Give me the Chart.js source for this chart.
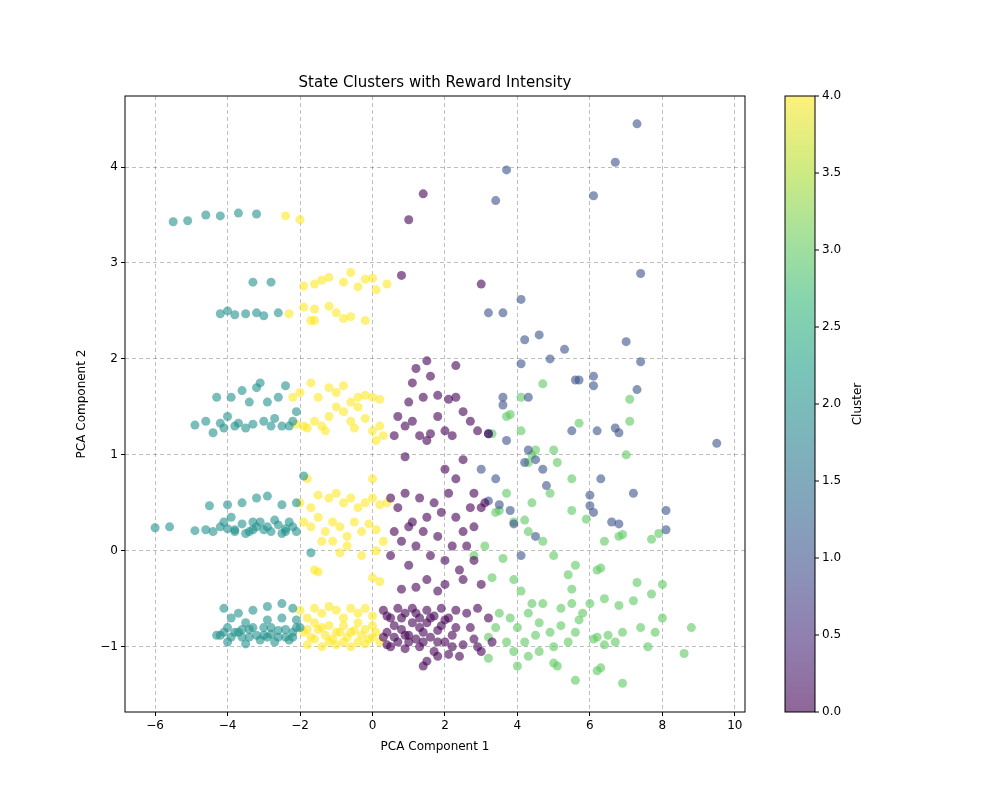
<!DOCTYPE html>
<html>
<head>
<meta charset="utf-8">
<script src="https://cdn.jsdelivr.net/npm/chart.js@4"></script>
<style>body{margin:0;background:#fff}</style>
</head>
<body>
<canvas id="c" width="1000" height="800"></canvas>
<script>
// points per cluster, [pc1, pc2]
var cluster0 = [[1.4,3.72],[1.0,3.45],[0.8,2.87],[3.0,2.78],
[1.5,1.98],[1.2,1.9],[1.6,1.82],[2.3,1.93],[1.1,1.75],[1.4,1.6],[1.8,1.62],[2.1,1.58],[1.0,1.55],[0.7,1.4],[0.9,1.3],[1.1,1.35],[1.3,1.2],[1.5,1.15],[1.8,1.4],[2.0,1.25],[2.3,1.6],[2.5,1.45],[2.7,1.35],[2.9,1.25],[3.2,1.22],[0.6,1.2],[0.9,0.98],[1.6,1.22],[2.2,1.2],
[2.0,0.85],[2.3,0.75],[2.5,0.95],[2.8,0.6],[3.0,0.45],[0.5,0.55],[0.7,0.45],[0.9,0.6],[1.1,0.3],[1.3,0.55],[1.5,0.35],[1.7,0.5],[1.9,0.4],[2.1,0.6],[2.3,0.35],[2.5,0.2],[2.7,0.45],[0.6,0.2],[0.8,0.1],[1.0,0.25],[1.2,0.05],[1.4,0.2],[1.6,-0.05],[1.8,0.15],[2.0,-0.1],[2.2,0.05],[2.4,-0.2],[2.6,0.05],[2.8,-0.1],[3.1,0.5],[0.5,-0.05],[1.0,-0.15],[1.5,-0.3],[2.0,-0.35],[2.5,-0.3],[3.0,-0.35],[0.8,-0.4],[1.2,-0.38],[1.8,-0.42],[2.8,0.25],
[0.3,-0.62],[0.5,-0.7],[0.7,-0.6],[0.9,-0.65],[1.1,-0.6],[1.3,-0.7],[1.5,-0.62],[1.7,-0.68],[1.9,-0.6],[2.1,-0.7],[2.3,-0.62],[2.6,-0.65],[2.9,-0.6],[3.2,-0.7],[0.4,-0.85],[0.6,-0.9],[0.8,-0.82],[1.0,-0.88],[1.2,-0.92],[1.4,-0.85],[1.6,-0.9],[1.8,-0.83],[2.0,-0.95],[2.2,-0.88],[2.5,-0.98],[2.8,-0.92],[3.0,-1.05],[3.3,-0.95],[0.5,-1.0],[0.9,-1.02],[1.3,-1.0],[1.7,-1.05],[2.1,-1.08],[1.5,-1.15],[1.4,-1.2],[1.8,-1.1],[2.4,-1.1],[2.9,-1.0],[1.1,-0.75],[1.9,-0.78],[2.7,-0.8],[0.7,-0.95],[1.5,-0.75],[2.3,-0.8],
[0.4,-0.68],[0.6,-0.78],[0.8,-0.7],[1.0,-0.95],[1.2,-0.65],[1.4,-0.95],[1.6,-0.7],[1.8,-0.95],[2.0,-0.72],[2.2,-1.0],[0.3,-0.9],[0.4,-0.98],[1.3,-0.8],[0.9,-0.88]];
var cluster1 = [[7.3,4.45],[6.7,4.05],[3.7,3.97],[6.1,3.7],[3.4,3.65],[7.4,2.89],[4.1,2.62],[3.2,2.48],[3.6,2.48],[4.6,2.25],[4.2,2.2],[5.3,2.1],[7.0,2.18],[4.9,2.0],[4.1,1.95],[7.4,1.97],[6.1,1.82],[6.1,1.72],[5.6,1.78],[5.7,1.78],[7.3,1.68],[3.6,1.6],[3.6,1.52],[4.3,1.6],[5.5,1.25],[6.2,1.25],[6.7,1.28],[6.8,1.23],[9.5,1.12],[3.2,1.22],[3.7,1.15],[4.3,1.05],[4.7,0.85],[4.2,0.92],[4.5,0.95],[3.0,0.85],[3.4,0.75],[6.3,0.75],[4.8,0.68],[3.2,0.52],[3.5,0.48],[3.8,0.42],[6.0,0.58],[7.2,0.6],[8.1,0.42],[6.0,0.47],[6.1,0.4],[3.9,0.28],[6.6,0.3],[6.8,0.28],[8.1,0.22],[4.5,0.15],[4.1,-0.05]];
var cluster2 = [[-5.5,3.43],[-5.1,3.44],[-4.6,3.5],[-4.2,3.49],[-3.7,3.52],[-3.2,3.51],
[-4.2,2.47],[-4.0,2.5],[-3.8,2.46],[-3.5,2.47],[-3.2,2.48],[-3.0,2.45],[-2.6,2.48],[-3.3,2.8],[-2.8,2.8],
[-4.9,1.31],[-4.6,1.35],[-4.4,1.23],[-4.2,1.33],[-4.0,1.4],[-3.8,1.3],[-3.6,1.67],[-3.4,1.55],[-3.2,1.7],[-3.0,1.35],[-2.8,1.3],[-2.6,1.6],[-2.4,1.72],[-2.2,1.35],[-2.1,1.45],[-4.3,1.6],[-3.9,1.6],[-3.5,1.28],[-3.1,1.75],[-2.5,1.3],[-2.3,1.3],[-3.7,1.33],[-2.7,1.38],[-2.9,1.55],[-4.1,1.28],[-3.3,1.32],
[-6.0,0.24],[-5.6,0.25],[-4.9,0.21],[-4.6,0.22],[-4.4,0.2],[-4.2,0.25],[-4.0,0.23],[-3.8,0.22],[-3.6,0.28],[-3.4,0.2],[-3.2,0.25],[-3.0,0.22],[-2.8,0.2],[-2.6,0.27],[-2.4,0.23],[-2.2,0.25],[-2.1,0.2],[-4.5,0.47],[-4.0,0.48],[-3.6,0.5],[-3.2,0.55],[-2.9,0.57],[-2.5,0.48],[-2.1,0.5],[-3.9,0.35],[-3.5,0.18],[-2.7,0.32],[-2.3,0.3],[-1.9,0.78],[-1.7,-0.02],[-3.1,0.3],[-4.1,0.3],[-3.3,0.3],[-2.5,0.18],
[-4.2,-0.88],[-4.0,-0.8],[-3.8,-0.85],[-3.6,-0.9],[-3.4,-0.82],[-3.2,-0.88],[-3.0,-0.8],[-2.8,-0.87],[-2.6,-0.83],[-2.4,-0.9],[-2.2,-0.85],[-2.0,-0.8],[-4.1,-0.6],[-3.7,-0.65],[-3.3,-0.62],[-2.9,-0.58],[-2.5,-0.55],[-2.2,-0.6],[-4.0,-0.95],[-3.5,-0.97],[-3.1,-0.93],[-2.7,-0.95],[-2.3,-0.93],[-3.9,-0.7],[-3.5,-0.75],[-2.9,-0.72],[-2.5,-0.7],[-4.3,-0.88],[-3.3,-0.8],[-2.1,-0.72],[-3.7,-0.85],[-2.9,-0.9],
[-4.1,-0.85],[-3.9,-0.9],[-3.6,-0.82],[-3.4,-0.9],[-3.0,-0.88],[-2.8,-0.8],[-2.6,-0.9],[-2.4,-0.82],[-2.2,-0.9],[-2.1,-0.8],[-3.8,0.2],[-3.3,0.22],[-2.9,0.25],[-2.4,0.2]];
var cluster3 = [[4.7,1.74],[7.1,1.58],[4.1,1.6],[3.8,1.42],[3.7,1.4],[7.1,1.35],[5.7,1.33],[4.1,1.25],[3.3,1.22],[4.5,1.05],[4.4,1.0],[5.0,1.05],[5.1,0.92],[7.0,1.0],[4.3,0.92],[5.5,0.75],[4.9,0.6],[3.7,0.6],[3.5,0.42],[3.4,0.4],[3.9,0.3],[4.2,0.32],[4.4,0.5],[5.5,0.42],[5.9,0.33],[6.4,0.1],[6.8,0.15],[7.7,0.12],[7.9,0.18],[6.9,0.17],[3.1,0.05],[3.6,-0.08],[4.3,0.2],[4.7,0.1],[5.0,-0.05],[2.8,-0.05],[3.3,-0.28],[3.9,-0.3],[4.1,-0.42],[5.4,-0.25],[5.5,-0.4],[6.2,-0.2],[6.3,-0.18],[7.3,-0.33],[8.0,-0.35],[5.6,-0.15],[4.4,-0.55],[4.7,-0.55],[5.2,-0.6],[5.5,-0.55],[5.8,-0.65],[6.0,-0.55],[6.4,-0.5],[6.8,-0.57],[7.2,-0.52],[7.7,-0.45],[3.5,-0.65],[3.8,-0.7],[4.0,-0.8],[4.3,-0.65],[4.6,-0.75],[4.9,-0.85],[5.2,-0.78],[5.6,-0.85],[6.2,-0.9],[6.5,-0.88],[6.9,-0.85],[7.4,-0.8],[7.8,-0.85],[8.8,-0.8],[3.2,-0.9],[3.7,-0.95],[4.2,-0.95],[4.5,-0.88],[5.0,-1.0],[5.4,-0.95],[6.1,-0.92],[6.4,-0.98],[6.7,-0.95],[7.6,-1.0],[8.6,-1.07],[3.2,-1.12],[3.9,-1.05],[4.3,-1.1],[4.6,-1.05],[5.0,-1.17],[5.1,-1.2],[5.6,-1.35],[6.2,-1.25],[6.3,-1.22],[6.9,-1.38],[4.0,-1.2],[8.0,-0.7],[5.7,-0.72],[3.4,-0.8]];
var cluster4 = [[-2.4,3.49],[-2.0,3.45],
[-1.9,2.76],[-1.6,2.78],[-1.4,2.82],[-1.2,2.85],[-0.8,2.8],[-0.6,2.9],[-0.4,2.75],[-0.2,2.83],[0.0,2.84],[0.1,2.72],[0.4,2.78],[-1.9,2.54],[-1.6,2.52],[-1.7,2.4],[-1.6,2.4],[-1.2,2.55],[-1.0,2.48],[-0.8,2.42],[-0.6,2.44],[-0.2,2.4],[-2.3,2.47],
[-2.2,1.6],[-2.0,1.65],[-1.7,1.75],[-1.5,1.6],[-1.2,1.7],[-1.0,1.65],[-0.8,1.72],[-0.6,1.55],[-0.4,1.6],[-0.2,1.62],[0.0,1.6],[0.2,1.58],[-2.1,1.32],[-1.9,1.3],[-1.6,1.35],[-1.4,1.3],[-1.2,1.4],[-1.0,1.5],[-0.8,1.45],[-0.6,1.35],[-0.4,1.5],[-0.2,1.38],[0.0,1.25],[0.2,1.3],[0.3,1.2],[-0.5,1.28],[0.1,1.15],[-1.8,1.28],[-1.3,1.25],
[-1.8,0.75],[-2.0,0.5],[-1.7,0.45],[-1.5,0.58],[-1.2,0.55],[-1.0,0.6],[-0.8,0.5],[-0.6,0.55],[-0.4,0.45],[-0.2,0.5],[0.0,0.55],[0.2,0.48],[0.4,0.5],[0.0,0.75],[-1.9,0.3],[-1.7,0.25],[-1.5,0.35],[-1.3,0.2],[-1.1,0.3],[-0.9,0.25],[-0.7,0.15],[-0.5,0.3],[-0.3,0.2],[-0.1,0.28],[0.1,0.22],[0.3,0.1],[-0.7,0.05],[-0.9,-0.02],[-0.3,-0.05],[-1.6,-0.2],[-1.5,-0.22],[0.0,-0.28],[0.2,-0.32],[0.1,0.0],[-1.1,0.1],[-1.4,0.1],
[-2.0,-0.62],[-1.8,-0.7],[-1.6,-0.6],[-1.4,-0.65],[-1.2,-0.58],[-1.0,-0.62],[-0.8,-0.7],[-0.6,-0.6],[-0.4,-0.65],[-0.2,-0.6],[0.0,-0.68],[-1.9,-0.85],[-1.7,-0.9],[-1.5,-0.82],[-1.3,-0.88],[-1.1,-0.92],[-0.9,-0.85],[-0.7,-0.9],[-0.5,-0.83],[-0.3,-0.88],[-0.1,-0.92],[0.1,-0.85],[0.2,-0.95],[-1.8,-0.98],[-1.4,-1.0],[-1.0,-0.98],[-0.6,-1.0],[-0.2,-0.97],[-1.6,-0.75],[-0.8,-0.78],[0.0,-0.78],[-1.2,-0.78],[-0.4,-0.75],
[-1.8,-0.82],[-1.6,-0.92],[-1.2,-0.95],[-1.0,-0.85],[-0.8,-0.95],[-0.6,-0.85],[-0.4,-0.95],[-0.2,-0.82],[0.0,-0.9],[-1.4,-0.8]];
var clusterColors = ['rgba(68,1,84,0.6)','rgba(59,82,139,0.6)','rgba(33,145,140,0.6)','rgba(94,201,98,0.6)','rgba(253,231,37,0.6)'];
var xTicks = [-6,-4,-2,0,2,4,6,8,10];
var yTicks = [-1,0,1,2,3,4];
var cbarTicks = [0,0.5,1,1.5,2,2.5,3,3.5,4];
var viridis = ['#440154','#482878','#3e4989','#31688e','#26828e','#1f9e89','#35b779','#6ece58','#b5de2b','#fde725'];

var font = 'DejaVu Sans';
Chart.defaults.font.family = font;
Chart.defaults.color = '#000';

function toPts(a){ return a.map(function(p){ return {x:p[0], y:p[1]}; }); }
var datasets = [cluster0, cluster1, cluster2, cluster3, cluster4].map(function(a, i){
  return {data: toPts(a), backgroundColor: clusterColors[i], borderWidth: 0, pointRadius: 4.5};
});

var extras = {
  id: 'extras',
  afterDraw: function(chart){
    var ctx = chart.ctx, a = chart.chartArea;
    ctx.save();
    // frame
    ctx.strokeStyle = '#000'; ctx.lineWidth = 1;
    ctx.strokeRect(a.left, a.top, a.right - a.left, a.bottom - a.top);
    // title
    ctx.fillStyle = '#000'; ctx.font = '15px ' + font;
    ctx.textAlign = 'center'; ctx.textBaseline = 'middle';
    ctx.fillText('State Clusters with Reward Intensity', (a.left + a.right) / 2, 83);
    // axis titles
    ctx.font = '12px ' + font;
    ctx.fillText('PCA Component 1', (a.left + a.right) / 2, 747);
    ctx.save();
    ctx.translate(82, (a.top + a.bottom) / 2); ctx.rotate(-Math.PI / 2);
    ctx.fillText('PCA Component 2', 0, 0);
    ctx.restore();
    // colorbar
    var cx = 785, cw = 30, top = a.top, bot = a.bottom;
    var g = ctx.createLinearGradient(0, bot, 0, top);
    viridis.forEach(function(c, i){ g.addColorStop(i / (viridis.length - 1), c); });
    ctx.globalAlpha = 0.6; ctx.fillStyle = g;
    ctx.fillRect(cx, top, cw, bot - top);
    ctx.globalAlpha = 1;
    ctx.strokeRect(cx, top, cw, bot - top);
    ctx.textAlign = 'left'; ctx.fillStyle = '#000';
    cbarTicks.forEach(function(t){
      var y = bot - (t / 4) * (bot - top);
      ctx.beginPath(); ctx.moveTo(cx + cw, y); ctx.lineTo(cx + cw + 4, y); ctx.stroke();
      ctx.fillText(t.toFixed(1), cx + cw + 7, y);
    });
    ctx.translate(858, (top + bot) / 2); ctx.rotate(-Math.PI / 2);
    ctx.textAlign = 'center';
    ctx.fillText('Cluster', 0, 0);
    ctx.restore();
  }
};

new Chart(document.getElementById('c'), {
  type: 'scatter',
  data: {datasets: datasets},
  options: {
    responsive: false, animation: false,
    layout: {padding: {left: 0, right: 255, top: 96, bottom: 0}},
    plugins: {legend: {display: false}, tooltip: {enabled: false}},
    scales: {
      x: {
        min: -6.83, max: 10.28,
        afterBuildTicks: function(s){ s.ticks = xTicks.map(function(v){ return {value: v}; }); },
        afterFit: function(s){ s.height = 88; },
        ticks: {font: {size: 12}, autoSkip: false, maxRotation: 0, callback: function(v){ return v < 0 ? '\u2212' + (-v) : v; }},
        grid: {color: 'rgba(0,0,0,0.25)', tickColor: '#000', tickLength: 4, drawTicks: true},
        border: {display: false, dash: [4, 3]}
      },
      y: {
        min: -1.68, max: 4.74,
        afterBuildTicks: function(s){ s.ticks = yTicks.map(function(v){ return {value: v}; }); },
        afterFit: function(s){ s.width = 125; },
        ticks: {font: {size: 12}, autoSkip: false, callback: function(v){ return v < 0 ? '\u2212' + (-v) : v; }},
        grid: {color: 'rgba(0,0,0,0.25)', tickColor: '#000', tickLength: 4},
        border: {display: false, dash: [4, 3]}
      }
    }
  },
  plugins: [extras]
});
</script>
</body>
</html>
